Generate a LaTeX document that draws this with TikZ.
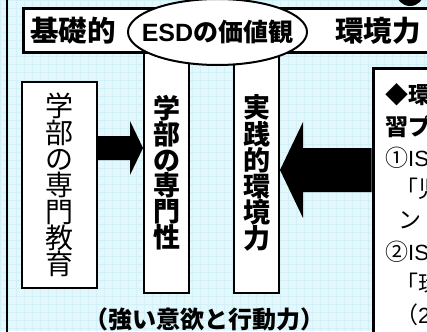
\documentclass[tikz,border=0pt]{standalone}
\usepackage{fontspec}
\setmainfont{Noto Sans CJK JP}
\newfontfamily\arialfont{Liberation Sans}
\usetikzlibrary{calc,shapes.geometric}
\definecolor{bgcyan}{RGB}{228,248,252}
\definecolor{gridcyan}{RGB}{210,240,247}
\tikzset{
  box/.style={draw=black, line width=2pt, fill=white, inner sep=0pt},
  head/.style={font=\fontsize{28.5}{30}\selectfont\bfseries, inner sep=0pt},
  rtb/.style={font=\fontsize{23}{26}\selectfont\bfseries, anchor=west, inner sep=0pt},
  rt/.style={font=\fontsize{23}{26}\selectfont, anchor=west, inner sep=0pt},
  bigarrow/.style={fill=black}
}
\begin{document}
\begin{tikzpicture}[x=1pt,y=-1pt]
\useasboundingbox (0,0) rectangle (427,331);
\clip (0,0) rectangle (427,331);
% background
\fill[bgcyan] (0,0) rectangle (427,331);
\foreach \g in {0,8,...,430} {\draw[gridcyan, line width=0.4pt] (\g,0) -- (\g,331);}
\foreach \g in {0,8,...,335} {\draw[gridcyan, line width=0.4pt] (0,\g) -- (427,\g);}
% outer frame line
\draw[line width=2pt] (7,-5) -- (7,340);
% top-right dark shape
\fill (410,-8) circle (14pt);
% vertical boxes
\node[box, minimum width=75pt, minimum height=206pt] (kyoiku) at (59.5,185)
  {\begin{minipage}{34pt}\centering\fontsize{28}{26.3}\selectfont 学\\部\\の\\専\\門\\教\\育\end{minipage}};
\node[box, minimum width=45pt, minimum height=240pt] (senmon) at (166.5,173)
  {\begin{minipage}{34pt}\centering\fontsize{27}{25.6}\selectfont\bfseries 学\\部\\の\\専\\門\\性\end{minipage}};
\node[box, minimum width=45pt, minimum height=240pt] (jissen) at (256.5,173)
  {\begin{minipage}{34pt}\centering\fontsize{27}{25.6}\selectfont\bfseries 実\\践\\的\\環\\境\\力\end{minipage}};
% banner
\node[box, line width=2.5pt, minimum width=440pt, minimum height=44pt, anchor=west] (banner) at (22,30.5) {};
\node[head] (kiso) at (73,31) {基礎的};
\node[head] (kankyo) at (378,31) {環境力};
% ellipse
\node[draw, ellipse, line width=2pt, fill=white, minimum width=179pt, minimum height=66pt, inner sep=0pt] (esd) at (217.5,32) {};
\node[inner sep=0pt, font=\fontsize{25}{28}\selectfont\bfseries] (esdtext) at (esd.center) {{\arialfont ESD}の価値観};
% right box
\node[box, line width=3pt, anchor=north west, minimum width=100pt, minimum height=300pt] (right) at (371.5,67) {};
% arrows
\coordinate (a1) at (0,148);
\fill[bigarrow] ($(kyoiku.east|-a1)+(0,-12)$) -- ($(senmon.west|-a1)+(-13,-12)$)
  -- ($(senmon.west|-a1)+(-13,-27)$) -- (senmon.west|-a1) -- ($(senmon.west|-a1)+(-13,27)$)
  -- ($(senmon.west|-a1)+(-13,12)$) -- ($(kyoiku.east|-a1)+(0,12)$) -- cycle;
\coordinate (a2) at (0,170);
\fill[bigarrow] ($(right.west|-a2)+(0,-22)$) -- ($(jissen.east|-a2)+(23,-22)$)
  -- ($(jissen.east|-a2)+(23,-48)$) -- (jissen.east|-a2) -- ($(jissen.east|-a2)+(23,48)$)
  -- ($(jissen.east|-a2)+(23,22)$) -- ($(right.west|-a2)+(0,22)$) -- cycle;
% right text
\node[rtb] (r1) at (385,95) {◆環};
\node[rtb] (r2) at (385,126.4) {習プ};
\node[rt] (r3) at (385,157.8) {①{\arialfont\fontsize{22}{26}\selectfont IS}};
\node[rt] (r4) at (395,189.2) {「児};
\node[rt] (r5) at (398,220.6) {ン};
\node[rt] (r6) at (385,252) {②{\arialfont\fontsize{22}{26}\selectfont IS}};
\node[rt] (r7) at (395,283.4) {「環};
\node[rt] (r8) at (395,314.8) {（{\arialfont\fontsize{22}{26}\selectfont 2}};
% bottom text
\node[font=\fontsize{24}{28}\selectfont\bfseries, inner sep=0pt] (iyoku) at (204.5,319) {（強い意欲と行動力）};
\end{tikzpicture}
\end{document}
